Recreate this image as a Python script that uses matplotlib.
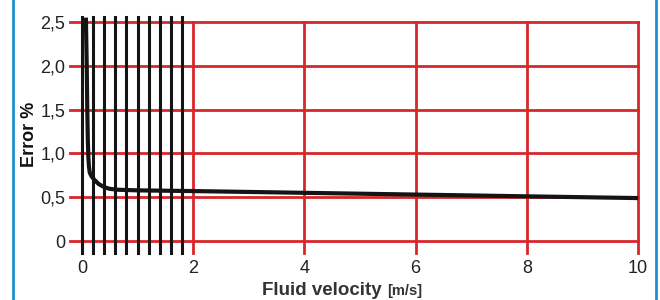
import numpy as np
import matplotlib.pyplot as plt
from matplotlib.lines import Line2D

# curve
velocity = [0.07, 0.085, 0.095, 0.105, 0.115, 0.125, 0.14, 0.17, 0.22, 0.3, 0.4, 0.5, 0.65, 1.0, 2.0, 4.0, 6.0, 8.0, 10.0]
error = [2.55, 2.0, 1.5, 1.15, 0.95, 0.85, 0.78, 0.74, 0.7, 0.65, 0.615, 0.595, 0.585, 0.578, 0.57, 0.55, 0.53, 0.51, 0.49]

fine_x = [0, 0.2, 0.4, 0.6, 0.8, 1.0, 1.2, 1.4, 1.6, 1.8]
major_x = [2, 4, 6, 8, 10]
y_ticks = [0, 0.5, 1.0, 1.5, 2.0, 2.5]
x_labels = ['0', '2', '4', '6', '8', '10']
y_labels = ['0', '0,5', '1,0', '1,5', '2,0', '2,5']

RED = '#d8262a'
BLACK = '#141414'
BLUE = '#1f8fd0'

plt.rcParams['font.family'] = ['Liberation Sans', 'DejaVu Sans']

fig = plt.figure(figsize=(6.6, 3.0), dpi=100)
ax = fig.add_axes([82/660, 1 - 241/300, 556/660, 219/300])
ax.set_xlim(0, 10)
ax.set_ylim(0, 2.5)
for s in ax.spines.values():
  s.set_visible(False)

# red horizontal grid
for y in y_ticks:
  ax.add_line(Line2D([-0.022, 1.0], [y / 2.5, y / 2.5], transform=ax.transAxes,
                     color=RED, lw=2.0, clip_on=False, zorder=1))
# red vertical grid
for x in major_x:
  ax.add_line(Line2D([x / 10, x / 10], [-0.055, 1.0], transform=ax.transAxes,
                     color=RED, lw=2.0, clip_on=False, zorder=1))
# black fine grid
for x in fine_x:
  ax.add_line(Line2D([x / 10, x / 10], [-0.055, 1.023], transform=ax.transAxes,
                     color=BLACK, lw=2.2, clip_on=False, zorder=2))

ax.plot(velocity, error, color=BLACK, lw=3.0, solid_capstyle='butt', clip_on=False, zorder=3)

ax.set_xticks([0, 2, 4, 6, 8, 10])
ax.set_xticklabels(x_labels)
ax.set_yticks(y_ticks)
ax.set_yticklabels(y_labels)
ax.tick_params(length=0, labelsize=13, colors='#222222')
ax.tick_params(axis='x', pad=14)
ax.tick_params(axis='y', pad=12)

fig.text(262/660, 1 - 295/300, 'Fluid velocity', fontsize=13.5, fontweight='bold',
         color='#333333', ha='left', va='baseline')
fig.text(387/660, 1 - 295/300, '[m/s]', fontsize=10.5, fontweight='bold',
         color='#333333', ha='left', va='baseline')
fig.text(30/660, 1 - 134/300, 'Error %', fontsize=13, fontweight='bold',
         color='#111111', rotation=90, ha='center', va='center')

# blue frame lines at the sides
fig.add_artist(Line2D([13/660, 13/660], [0, 1], color=BLUE, lw=2.0))
fig.add_artist(Line2D([656/660, 656/660], [0, 1], color=BLUE, lw=2.0))

fig.savefig('out.png', dpi=100)
